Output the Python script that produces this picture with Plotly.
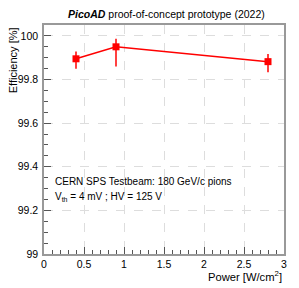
import plotly.graph_objects as go

power = [0.4, 0.9, 2.8]
efficiency = [99.895, 99.950, 99.882]
err_up = [0.034, 0.037, 0.035]
err_down = [0.046, 0.090, 0.049]

x_ticks = [0, 0.5, 1, 1.5, 2, 2.5, 3]
x_tick_labels = ["0", "0.5", "1", "1.5", "2", "2.5", "3"]
y_ticks = [99, 99.2, 99.4, 99.6, 99.8, 100]
y_tick_labels = ["99", "99.2", "99.4", "99.6", "99.8", "100"]

title_text = "<b><i>PicoAD</i></b> proof-of-concept prototype (2022)"
x_title = "Power [W/cm<sup>2</sup>]"
y_title = "Efficiency [%]"
note1 = "CERN SPS Testbeam: 180 GeV/c pions"
note2 = "V<sub>th</sub> = 4 mV ; HV = 125 V"

red = "#ff0000"
axis_col = "#999999"
font = "Liberation Sans, Arial, sans-serif"

# page body has an 8px margin; figure is sized/offset to compensate
fig = go.Figure()
fig.add_trace(go.Scatter(
    x=power, y=efficiency, mode="lines+markers",
    line=dict(color=red, width=1.5),
    marker=dict(symbol="square", size=7, color=red),
    error_y=dict(type="data", symmetric=False, array=err_up, arrayminus=err_down,
                 color=red, thickness=1.5, width=0),
    showlegend=False,
))

fig.update_layout(
    width=291, height=280,
    margin=dict(l=36.3, r=14.7, t=17, b=34, autoexpand=False),
    paper_bgcolor="white", plot_bgcolor="white",
    font=dict(family=font, size=10, color="black"),
    title=dict(text=title_text, xref="paper", x=0.51, xanchor="center",
               y=1 - 6.5/280, yanchor="middle", automargin=False,
               font=dict(family=font, size=10.5, color="black")),
)

fig.update_xaxes(
    range=[0, 3], tickvals=x_ticks, ticktext=x_tick_labels, automargin=False,
    ticks="inside", ticklen=7, tickcolor="#555555", tickwidth=1,
    minor=dict(dtick=0.1, ticks="inside", ticklen=4, tickcolor="#555555", showgrid=False),
    showline=True, linecolor=axis_col, linewidth=1.5, mirror=True,
    showgrid=True, gridcolor="#dddddd", griddash="dash", gridwidth=1,
    zeroline=False, tickfont=dict(size=10.5), ticklabelstandoff=0,
)
fig.update_yaxes(
    range=[99, 100.05], tickvals=y_ticks, ticktext=y_tick_labels, automargin=False,
    ticks="inside", ticklen=7, tickcolor="#555555", tickwidth=1,
    minor=dict(dtick=0.05, tick0=99, ticks="inside", ticklen=4, tickcolor="#555555", showgrid=False),
    showline=True, linecolor=axis_col, linewidth=1.5, mirror=True,
    showgrid=True, gridcolor="#dddddd", griddash="dash", gridwidth=1,
    zeroline=False, tickfont=dict(size=10.5), ticklabelstandoff=2,
)

fig.add_annotation(text=x_title, xref="paper", yref="paper", x=1, y=-0.096,
                   xanchor="right", yanchor="middle", showarrow=False,
                   font=dict(size=11.2))
fig.add_annotation(text=y_title, xref="paper", yref="paper", x=-0.128, y=1.0,
                   xanchor="center", yanchor="top", textangle=-90, showarrow=False,
                   font=dict(size=11))
fig.add_annotation(text=note1, xref="paper", yref="paper", x=0.0375, y=0.317,
                   xanchor="left", yanchor="middle", showarrow=False,
                   font=dict(size=10))
fig.add_annotation(text=note2, xref="paper", yref="paper", x=0.0375, y=0.251,
                   xanchor="left", yanchor="middle", showarrow=False,
                   font=dict(size=10))

fig.write_html("out.html")
